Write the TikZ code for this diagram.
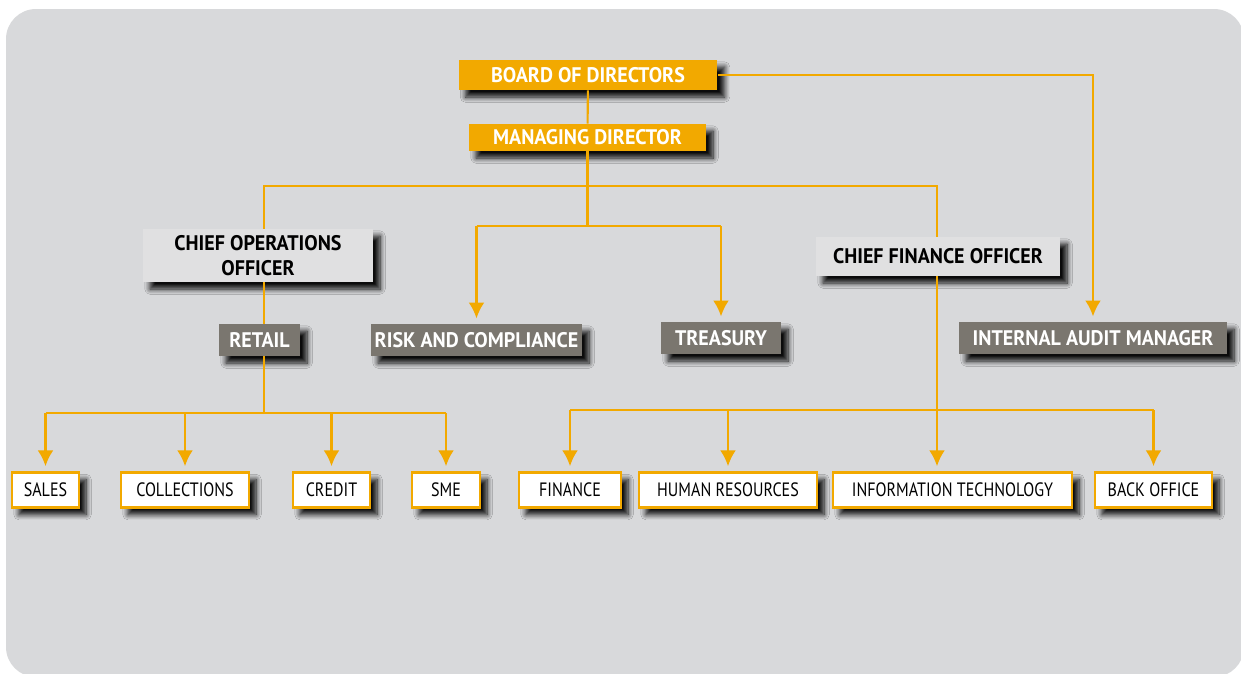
\documentclass[tikz,border=0pt]{standalone}
\usepackage{fontspec}
\setmainfont{PT Sans}
\newfontfamily\headfont[FakeStretch=0.95]{PT Sans}
\newfontfamily\narrowfont[FakeStretch=0.83]{PT Sans}
\usetikzlibrary{arrows.meta,shadows.blur}

\definecolor{panelgray}{HTML}{D8D9DB}
\definecolor{chartorange}{HTML}{F2A900}
\definecolor{unitgray}{HTML}{7A766F}
\definecolor{officegray}{HTML}{E0E0E1}

\tikzset{
  shadowed/.style={blur shadow={shadow xshift=4pt, shadow yshift=-4pt,
      shadow blur radius=3pt, shadow blur steps=8, shadow opacity=95}},
  board/.style={shadowed, fill=chartorange, text=white, inner sep=0pt,
      font=\headfont\bfseries\fontsize{12}{14}\selectfont},
  officer/.style={shadowed, fill=officegray, text=black, inner sep=0pt,
      align=center, font=\headfont\bfseries\fontsize{12}{14}\selectfont},
  unit/.style={shadowed, fill=unitgray, text=white, inner sep=0pt,
      font=\headfont\bfseries\fontsize{12}{14}\selectfont},
  dept/.style={shadowed, fill=white, draw=chartorange, line width=1.2pt,
      inner sep=0pt, minimum height=0.7cm, text=black,
      font=\narrowfont\fontsize{11}{13}\selectfont},
  link/.style={draw=chartorange, line width=1.2pt},
  arrowed/.style={-{Latex[length=9pt,width=9pt]}, shorten >=3pt},
}

\begin{document}
\begin{tikzpicture}[x=0.02cm,y=-0.02cm]
  \useasboundingbox (0,0) rectangle (1241,673);
  % rounded grey panel behind everything
  \fill[panelgray, rounded corners=0.6cm] (6,9) rectangle (1244,677);

  % heights of the horizontal bars and x of the two side trunks
  \coordinate (topbar)   at (0,186);
  \coordinate (midbar)   at (0,226);
  \coordinate (leftbar)  at (0,413);
  \coordinate (rightbar) at (0,410);
  \coordinate (cooline)  at (264,0);
  \coordinate (cfoline)  at (937,0);

  % top of the chart
  \node[board, minimum width=5.18cm, minimum height=0.6cm] (brd) at (588,75) {BOARD OF DIRECTORS};
  \node[board, minimum width=4.74cm, minimum height=0.54cm] (md) at (587.5,137.5) {MANAGING DIRECTOR};

  % officers and units
  \node[officer, minimum width=4.6cm, minimum height=1.06cm] (coo) at (258,255.5) {CHIEF OPERATIONS\\OFFICER};
  \node[officer, minimum width=4.88cm, minimum height=0.78cm] (cfo) at (938,256.5) {CHIEF FINANCE OFFICER};
  \node[unit, minimum width=1.62cm, minimum height=0.64cm] (retail) at (259.5,340) {RETAIL};
  \node[unit, minimum width=4.22cm, minimum height=0.64cm] (risk) at (476.5,340) {RISK AND COMPLIANCE};
  \node[unit, minimum width=2.4cm, minimum height=0.64cm] (treasury) at (721,338) {TREASURY};
  \node[unit, minimum width=5.36cm, minimum height=0.64cm] (iam) at (1093,338) {INTERNAL AUDIT MANAGER};

  % departments
  \node[dept, minimum width=1.34cm] (sales)  at (45.5,490)  {SALES};
  \node[dept, minimum width=2.56cm] (coll)   at (185,490)   {COLLECTIONS};
  \node[dept, minimum width=1.54cm] (credit) at (331.5,490) {CREDIT};
  \node[dept, minimum width=1.36cm] (sme)    at (446,490)   {SME};
  \node[dept, minimum width=2.04cm] (fin)    at (570,490)   {FINANCE};
  \node[dept, minimum width=3.56cm] (hr)     at (728,490)   {HUMAN RESOURCES};
  \node[dept, minimum width=4.78cm] (it)     at (952.5,490) {INFORMATION TECHNOLOGY};
  \node[dept, minimum width=2.34cm] (bo)     at (1153.5,490) {BACK OFFICE};

  % connectors from the board down
  \draw[link] (brd) -- (md);
  \draw[link, arrowed] (brd.east) -| (iam);
  \draw[link] (md.south) -- (md.south |- midbar);
  \draw[link] (cooline |- coo.north) -- (cooline |- topbar)
      -- (cfoline |- topbar) -- (cfoline |- cfo.north);
  \draw[link] (risk.north |- midbar) -- (treasury.north |- midbar);
  \draw[link, arrowed] (risk.north |- midbar) -- (risk);
  \draw[link, arrowed] (treasury.north |- midbar) -- (treasury);

  % operations side
  \draw[link] (cooline |- coo.south) -- (cooline |- retail.north);
  \draw[link] (cooline |- retail.south) -- (cooline |- leftbar);
  \draw[link] (sales.north |- leftbar) -- (sme.north |- leftbar);
  \foreach \dep in {sales,coll,credit,sme}
    \draw[link, arrowed] (\dep.north |- leftbar) -- (\dep);

  % finance side
  \draw[link, arrowed] (cfoline |- cfo.south) -- (cfoline |- it.north);
  \draw[link] (fin.north |- rightbar) -- (bo.north |- rightbar);
  \foreach \dep in {fin,hr,bo}
    \draw[link, arrowed] (\dep.north |- rightbar) -- (\dep);
\end{tikzpicture}
\end{document}
